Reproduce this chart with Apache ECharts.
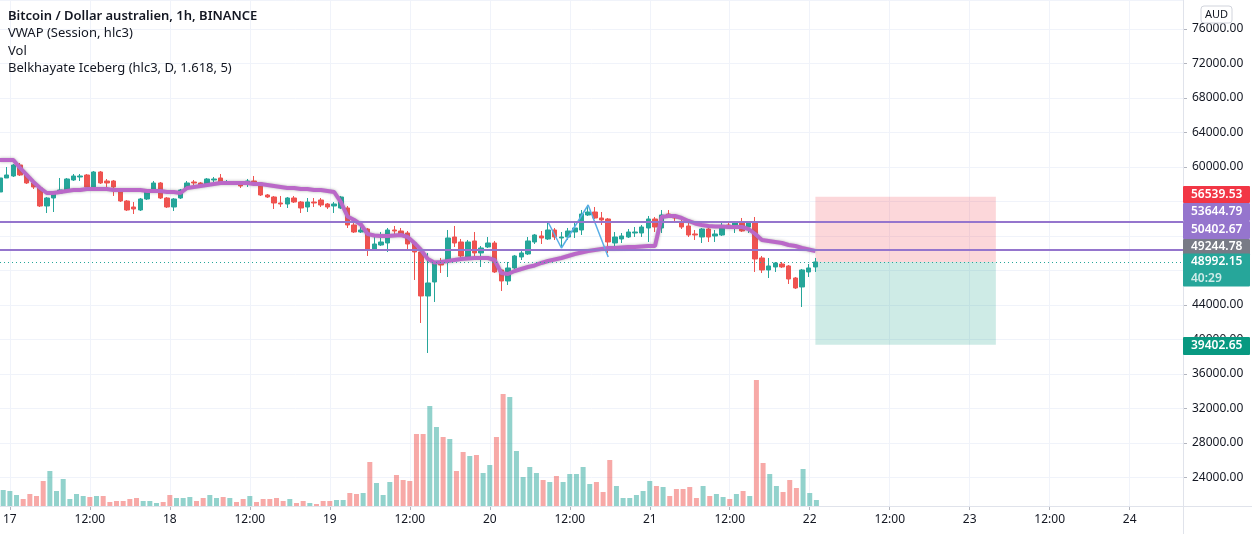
<!DOCTYPE html>
<html><head><meta charset="utf-8">
<script src="https://cdn.jsdelivr.net/npm/echarts@6/dist/echarts.min.js"></script>
<style>html,body{margin:0;padding:0;background:#fff}#c{width:1252px;height:534px}</style>
</head><body><div id="c"></div>
<script>
// ---------------- DATA ----------------
const titleLines = ['Bitcoin / Dollar australien, 1h, BINANCE', 'VWAP (Session, hlc3)', 'Vol', 'Belkhayate Iceberg (hlc3, D, 1.618, 5)'];
const currency = 'AUD';
const firstDay = 16;          // first candle: 16 23:00
const firstHour = 23;
const categoryCount = 178;    // hourly slots shown on the time axis
// candles: [open, close, low, high]
const ohlc = [
[57102,58725,56986,58957],[58725,59073,58725,60001],[58957,60232,58841,60348],[60232,59073,58957,60464],
[59073,58146,58030,59305],[58146,57682,57450,58262],[57566,55479,55363,57798],[55479,56407,54668,56523],
[56407,57102,54784,57218],[56986,57334,56870,58725],[57334,58609,57218,58725],[58493,58957,58378,59189],
[58841,58957,58378,59189],[59073,57682,57566,59189],[57682,59421,57566,59537],[59421,58146,58030,59537],
[58378,58146,57682,58609],[58378,57682,56639,58493],[57334,56059,55943,57450],[56059,55016,54900,56175],
[55363,55131,54552,55943],[55016,56291,54900,56407],[56291,57102,56175,57218],[57450,58146,57334,58378],
[58146,56407,56291,58262],[56407,55363,55247,56523],[55363,56291,54900,56407],[56407,57334,56291,57450],
[57566,58146,57450,58378],[58262,58146,57914,58493],[58146,57914,57798,58262],[58030,58609,57914,58725],
[58493,58609,58262,58841],[58725,58146,58030,59189],[58146,58262,57914,58493],[58262,58146,58030,58378],
[58146,57798,57566,58262],[58146,58378,57682,58609],[58378,58146,58030,58957],[58146,56755,56639,58262],
[56755,56523,56407,56870],[56523,55827,55131,56639],[55827,55711,55363,56639],[55711,56407,55247,56523],
[56407,55943,55827,56639],[55943,55247,54668,56059],[55363,55943,54784,56407],[55943,55827,55363,56407],
[56175,55595,55363,56407],[55711,55363,55131,55827],[55479,55711,54668,55943],[55247,56523,55131,56639],
[55247,53277,52929,55479],[53277,52465,52349,53508],[52465,52697,52349,53045],[52813,50494,49683,52929],
[50494,51074,50378,51885],[50958,51306,50842,52465],[51190,52697,50147,52929],[52697,52581,52233,53161],
[52581,52233,52117,52929],[52349,51074,50494,52581],[51190,50147,46901,51422],[50147,45046,41915,50262],
[45046,46553,38437,50031],[46669,48871,44350,48987],[48987,48639,47712,49451],[49219,51770,47248,52697],
[51885,51190,50726,53161],[51306,49683,49451,51654],[49567,51306,49451,51538],[51422,50031,49567,52465],
[50031,50610,48408,50842],[50726,51190,50610,51885],[51190,47828,47712,51422],[48060,46785,45625,48176],
[46785,48292,46321,48987],[48292,49683,48060,49799],[49567,50031,49219,50262],[49915,51422,49799,51885],
[51306,52117,51074,52233],[52001,51770,51074,52581],[51654,52697,51538,53624],[52697,51885,51538,52929],
[51770,51885,50726,52465],[51885,52581,51538,52929],[52465,52929,51770,53508],[52697,54552,52117,55016],
[54436,54784,54320,55595],[54784,54088,53972,55363],[54088,53856,53277,54784],[53972,51306,50031,54088],
[51190,51885,50726,52465],[51654,52001,51190,52349],[51885,52465,51770,52813],[52349,52465,51885,53045],
[52349,53045,51885,53277],[52929,53972,51306,54320],[53972,53045,52465,54204],[52929,54436,52349,55016],
[54552,54204,54088,55016],[54320,54088,53740,54436],[53624,53045,52813,53856],[53161,52117,51885,53508],
[52233,52117,51538,52697],[51885,52813,51190,52929],[52813,51885,51306,52929],[52001,52233,51306,52697],
[52117,52929,52001,53508],[53277,53045,52813,53508],[53045,53508,52349,53624],[53508,52581,52465,54088],
[53045,53508,52349,53624],[53508,49335,47828,54204],[49451,48060,47712,49683],[48060,48524,47132,49451],
[48408,48871,47828,48987],[48755,48408,48292,48987],[48524,47016,46437,48639],[47132,45973,45857,47248],
[46089,48060,43770,48176],[47828,48292,47248,48755],[48408,48992.15,47828,49451]
];
const volumes = [16,15,11,7,12,10,25,35,15,27,7,12,10,9,10,10,4,5,5,7,8,5,5,3,4,11,8,8,9,5,8,11,8,9,8,4,7,10,4,7,7,8,5,7,3,5,3,2,5,5,6,6,13,12,13,44,23,11,24,31,26,25,72,72,100,79,69,67,35,54,50,51,33,41,69,112,109,55,29,39,33,26,24,30,24,32,32,39,22,24,14,46,20,8,8,11,15,25,20,19,10,17,17,19,8,20,10,12,9,7,12,15,10,126,43,32,20,14,26,18,37,13,6];
const vwap = [60812,60812,60812,59885,59073,58262,57566,56986,56986,57102,57218,57334,57334,57450,57450,57450,57450,57334,57334,57334,
57334,57334,57218,57218,57218,57102,57102,56986,57566,57682,57798,57914,58030,58146,58146,58146,58146,58146,58030,58030,
57914,57798,57682,57566,57566,57450,57450,57334,57334,57218,57102,55940,54260,53856,53330,52233,52059,52001,52001,52059,
52117,51885,51190,50378,49335,48929,48987,49103,49219,49335,49393,49451,49451,49451,49219,47712,47596,47944,48176,48408,
48581,48871,49103,49277,49451,49683,49915,50089,50262,50378,50494,50610,50610,50668,50726,50726,50784,50842,50842,54204,
54320,54320,54088,53740,53450,53277,53161,53103,53103,53045,53045,53045,52813,52233,51538,51422,51306,51190,50958,50842,
50610,50436,50262];
const zigzagIdx = [82, 84, 88, 91];
const zigzagVal = [53624, 50610, 55595, 49567];
const levelLines = [53644.79, 50402.67];
const lastPrice = 48992.15;
const targetPrice = 56539.53;
const stopPrice = 39402.65;
const vwapTag = 49244.78;
const countdown = '40:29';
const positionRange = [122, 149];
const priceAxis = { min: 24000, max: 79362, step: 4000 };

// ---------------- CHART ----------------
const UP = '#26a69a', DOWN = '#ef5350';
const GRID_LINE = '#f0f3fa';
const FONT = '"Noto Sans", "DejaVu Sans", sans-serif';

const categories = [];
const hours = [];
const days = [];
for (let i = 0; i < categoryCount; i++) {
  const t = firstHour + i;
  const d = firstDay + Math.floor(t / 24);
  const h = t % 24;
  hours.push(h); days.push(d);
  categories.push(d + ' ' + String(h).padStart(2, '0') + ':00');
}
const showTick = (idx) => hours[idx] % 12 === 0;

const volData = volumes.map((v, i) => ({
  value: v,
  itemStyle: { color: ohlc[i][1] >= ohlc[i][0] ? 'rgba(38,166,154,0.5)' : 'rgba(239,83,80,0.5)' }
}));

const chart = echarts.init(document.getElementById('c'), null, { renderer: 'canvas' });
const gridLeft = 0, gridWidth = 1183;

const option = {
  animation: false,
  backgroundColor: '#ffffff',
  grid: [
    { left: gridLeft, width: gridWidth, top: 0, height: 477.5 },
    { left: gridLeft, width: gridWidth, top: 0, height: 506 }
  ],
  xAxis: [
    { type: 'category', gridIndex: 0, data: categories, boundaryGap: false, show: false },
    {
      type: 'category', gridIndex: 1, data: categories, boundaryGap: false,
      axisLine: { show: true, lineStyle: { color: '#e0e3eb' } },
      axisTick: { show: true, interval: (i) => showTick(i), length: 4, lineStyle: { color: '#b2b5be' } },
      axisLabel: {
        interval: (i) => showTick(i), color: '#131722', fontSize: 12, fontFamily: FONT, margin: 8,
        formatter: (val, idx) => hours[idx] === 0 ? String(days[idx]) : '12:00'
      },
      splitLine: { show: true, interval: (i) => showTick(i), lineStyle: { color: GRID_LINE, width: 1 } }
    }
  ],
  yAxis: [
    {
      type: 'value', gridIndex: 0, position: 'right', min: priceAxis.min, max: priceAxis.max, interval: priceAxis.step,
      axisLine: { show: false },
      axisTick: { show: true, length: 4, lineStyle: { color: '#b2b5be' } },
      axisLabel: { color: '#131722', fontSize: 12, fontFamily: FONT, margin: 9, showMaxLabel: false,
        formatter: (v) => v.toFixed(2) },
      splitLine: { show: true, lineStyle: { color: GRID_LINE, width: 1 } }
    },
    { type: 'value', gridIndex: 1, min: 0, max: 506, show: false }
  ],
  series: [
    {
      type: 'bar', name: 'Vol', xAxisIndex: 1, yAxisIndex: 1, data: volData, barWidth: 5, z: 1
    },
    {
      type: 'candlestick', name: 'BTCAUD', xAxisIndex: 0, yAxisIndex: 0, data: ohlc, barWidth: 5, z: 3,
      itemStyle: { color: UP, color0: DOWN, borderColor: UP, borderColor0: DOWN, borderWidth: 1 },
      markLine: {
        silent: true, symbol: ['none', 'none'], label: { show: false },
        data: [
          { yAxis: levelLines[0], lineStyle: { color: '#9575cd', width: 2, type: 'solid' } },
          { yAxis: levelLines[1], lineStyle: { color: '#9575cd', width: 2, type: 'solid' } },
          { yAxis: lastPrice, lineStyle: { color: UP, width: 1, type: [1, 3] } }
        ]
      },
      markArea: {
        silent: true,
        data: [
          [{ xAxis: categories[positionRange[0]], yAxis: targetPrice, itemStyle: { color: 'rgba(242,54,69,0.2)' } },
           { xAxis: categories[positionRange[1]], yAxis: lastPrice }],
          [{ xAxis: categories[positionRange[0]], yAxis: lastPrice, itemStyle: { color: 'rgba(8,153,129,0.2)' } },
           { xAxis: categories[positionRange[1]], yAxis: stopPrice }]
        ]
      }
    },
    {
      type: 'line', name: 'VWAP', xAxisIndex: 0, yAxisIndex: 0, data: vwap, showSymbol: false, z: 4,
      lineStyle: { color: '#ba68c8', width: 4, shadowColor: 'rgba(90,90,90,0.45)', shadowBlur: 3 }
    },
    {
      type: 'line', name: 'Iceberg', xAxisIndex: 0, yAxisIndex: 0, z: 4, showSymbol: false,
      data: zigzagIdx.map((x, k) => [x, zigzagVal[k]]),
      lineStyle: { color: '#5aaee6', width: 1.5 }
    }
  ]
};
chart.setOption(option);

// price tags on the right scale (positions from the axis, with stacking offsets)
const tagLayout = [
  { value: targetPrice, bg: '#f23645', dy: -2.4, h: 17 },
  { value: levelLines[0], bg: '#9575cd', dy: -9.8, h: 18 },
  { value: levelLines[1], bg: '#9575cd', dy: -19.8, h: 18 },
  { value: vwapTag, bg: '#787b86', dy: -12.8, h: 16 },
  { value: lastPrice, bg: '#26a69a', dy: 0, h: 17, sub: countdown },
  { value: stopPrice, bg: '#089981', dy: 1.4, h: 18 }
];
const axisX = gridLeft + gridWidth;
const g = [];
tagLayout.forEach((t) => {
  const cy = chart.convertToPixel({ yAxisIndex: 0 }, t.value) + t.dy;
  const top = cy - t.h / 2;
  const fullH = t.sub ? t.h + 16 : t.h;
  g.push({ type: 'rect', z: 100, shape: { x: axisX, y: top, width: 67, height: fullH, r: 1 }, style: { fill: t.bg } });
  g.push({ type: 'text', z: 101, x: axisX + 8, y: cy, style: { text: t.value.toFixed(2), fill: '#fff', font: '600 12px ' + FONT, verticalAlign: 'middle', align: 'left' } });
  if (t.sub) {
    g.push({ type: 'text', z: 101, x: axisX + 8, y: cy + 17, style: { text: t.sub, fill: 'rgba(255,255,255,0.78)', font: '600 12px ' + FONT, verticalAlign: 'middle', align: 'left' } });
  }
});
// scale borders
g.push({ type: 'line', z: 50, shape: { x1: axisX + 0.5, y1: 0, x2: axisX + 0.5, y2: 534 }, style: { stroke: '#e0e3eb', lineWidth: 1 } });
g.push({ type: 'line', z: 50, shape: { x1: 0, y1: 506.5, x2: 1252, y2: 506.5 }, style: { stroke: '#e0e3eb', lineWidth: 1 } });
// currency box
g.push({ type: 'rect', z: 60, shape: { x: 1201, y: 6, width: 31, height: 17, r: 3 }, style: { fill: '#fff', stroke: '#d1d4dc', lineWidth: 1 } });
g.push({ type: 'text', z: 61, x: 1216.5, y: 15, style: { text: currency, fill: '#131722', font: '11px ' + FONT, align: 'center', verticalAlign: 'middle' } });
// legend lines
const lineY = [16, 33.5, 51, 68.5];
titleLines.forEach((s, i) => {
  g.push({ type: 'text', z: 60, x: 8, y: lineY[i], style: { text: s, fill: '#131722', font: (i === 0 ? '600 ' : '') + '13px ' + FONT, verticalAlign: 'middle' } });
});
chart.setOption({ graphic: g });
</script>
</body></html>
